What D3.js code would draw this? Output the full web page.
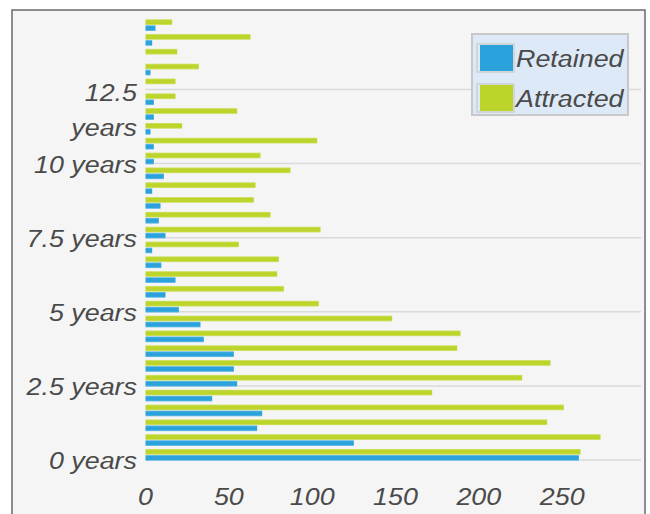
<!DOCTYPE html>
<html>
<head>
<meta charset="utf-8">
<script src="https://cdn.jsdelivr.net/npm/d3@7"></script>
<style>
  html, body { margin: 0; padding: 0; background: #ffffff; }
  svg { display: block; }
  text { font-family: "Liberation Sans", Arial, sans-serif; font-style: italic; fill: #4a4a4a; }
</style>
</head>
<body>
<svg id="chart" width="650" height="514"></svg>
<script>
// ---- data ----
const categories = [0, 0.5, 1, 1.5, 2, 2.5, 3, 3.5, 4, 4.5, 5, 5.5, 6, 6.5, 7, 7.5, 8, 8.5, 9, 9.5, 10, 10.5, 11, 11.5, 12, 12.5, 13, 13.5, 14, 14.5];
const retained  = [260, 125, 67, 70, 40, 55, 53, 53, 35, 33, 20, 12, 18, 9.5, 4, 12, 8, 9, 4, 11, 5, 5, 3, 5, 5, 0, 3, 0, 4, 6];
const attracted = [261, 273, 241, 251, 172, 226, 243, 187, 189, 148, 104, 83, 79, 80, 56, 105, 75, 65, 66, 87, 69, 103, 22, 55, 18, 18, 32, 19, 63, 16];
const seriesNames = ["Attracted", "Retained"];
const seriesColors = { Retained: "#2ba2db", Attracted: "#bdd42b" };
const xTicks = [0, 50, 100, 150, 200, 250];
const yTicks = [0, 2.5, 5, 7.5, 10, 12.5];
const yTickLabels = ["0 years", "2.5 years", "5 years", "7.5 years", "10 years", "12.5 years"];
const step = 0.5;

// ---- layout ----
const svg = d3.select("#chart");
const x = d3.scaleLinear().domain([0, 300]).range([145.5, 645.5]);
const y = d3.scaleLinear().domain([0, 15]).range([460, 15.4]);
const inner = d3.scaleBand().domain(seriesNames).paddingInner(0.04);

const defs = svg.append("defs");
Object.entries(seriesColors).forEach(([k, c]) => {
  const g = defs.append("linearGradient").attr("id", "grad-" + k)
    .attr("x1", 0).attr("x2", 0).attr("y1", 0).attr("y2", 1);
  const light = d3.interpolateRgb(c, "#ffffff")(0.35);
  g.append("stop").attr("offset", "0%").attr("stop-color", light);
  g.append("stop").attr("offset", "25%").attr("stop-color", c);
  g.append("stop").attr("offset", "75%").attr("stop-color", c);
  g.append("stop").attr("offset", "100%").attr("stop-color", light);
});

// frame + background
svg.append("rect").attr("x", 12).attr("y", 10).attr("width", 633).attr("height", 520)
  .attr("fill", "#f5f5f5").attr("stroke", "#6a6a6a").attr("stroke-width", 1.5);

// gridlines
svg.append("g").selectAll("line").data(yTicks).join("line")
  .attr("x1", x(0)).attr("x2", 641)
  .attr("y1", d => y(d)).attr("y2", d => y(d))
  .attr("stroke", "#dadada").attr("stroke-width", 1.5);

// bars
const rows = categories.map((c, i) => ({ cat: c, Retained: retained[i], Attracted: attracted[i] }));
const groups = svg.append("g").selectAll("g").data(rows).join("g");
groups.each(function(d) {
  const top = y(d.cat + step) + 3.8, bottom = y(d.cat) + 0.8;
  const sc = inner.copy().range([top, bottom]);
  d3.select(this).selectAll("rect").data(seriesNames.map(s => ({ s, v: d[s] }))).join("rect")
    .attr("x", x(0))
    .attr("y", e => sc(e.s))
    .attr("height", sc.bandwidth())
    .attr("width", e => x(e.v) - x(0))
    .attr("fill", e => "url(#grad-" + e.s + ")");
});

// y tick labels
const yl = svg.append("g");
yTicks.forEach((t, i) => {
  const label = yTickLabels[i];
  if (t === 12.5) {
    const parts = label.split(" ");
    yl.append("text").attr("transform", `translate(137,${y(t) + 11}) scale(1.12,1)`)
      .attr("text-anchor", "end").attr("font-size", 24).text(parts[0]);
    yl.append("text").attr("transform", `translate(137,${y(t) + 46}) scale(1.12,1)`)
      .attr("text-anchor", "end").attr("font-size", 24).text(parts[1]);
  } else {
    yl.append("text").attr("transform", `translate(137,${y(t) + 9}) scale(1.12,1)`)
      .attr("text-anchor", "end").attr("font-size", 24).text(label);
  }
});

// x tick labels
svg.append("g").selectAll("text").data(xTicks).join("text")
  .attr("transform", d => `translate(${x(d)},505) scale(1.12,1)`)
  .attr("text-anchor", "middle").attr("font-size", 24)
  .text(d => d);

// legend
const lg = svg.append("g");
lg.append("rect").attr("x", 472).attr("y", 34).attr("width", 156).attr("height", 81)
  .attr("fill", "#dde9f6").attr("stroke", "#c8c8c8").attr("stroke-width", 2);
const legendItems = ["Retained", "Attracted"];
legendItems.forEach((s, i) => {
  const yy = 45 + i * 40;
  lg.append("rect").attr("x", 477).attr("y", yy - 1).attr("width", 37).attr("height", 28)
    .attr("fill", "none").attr("stroke", "#cfcfcf").attr("stroke-width", 1.5);
  lg.append("rect").attr("x", 480).attr("y", yy).attr("width", 33).attr("height", 26)
    .attr("fill", seriesColors[s]);
  lg.append("text").attr("transform", `translate(516,${yy + 22}) scale(1.12,1)`)
    .attr("font-size", 24).text(s);
});
</script>
</body>
</html>
